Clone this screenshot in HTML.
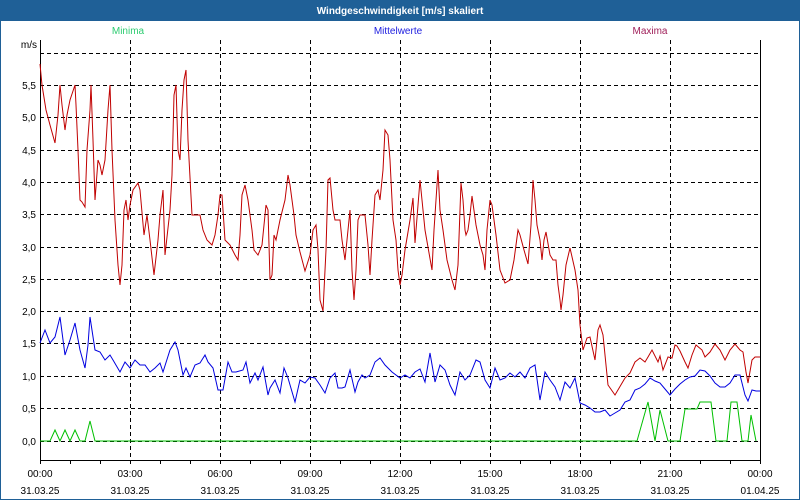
<!DOCTYPE html>
<html><head><meta charset="utf-8"><style>
html,body{margin:0;padding:0;background:#fff}
svg{display:block}
text{font-family:"Liberation Sans",sans-serif;font-size:10px}
</style></head><body>
<svg width="800" height="500" xmlns="http://www.w3.org/2000/svg">
<rect x="0" y="0" width="800" height="500" fill="#1f6097"/>
<rect x="1" y="21" width="798" height="478" fill="#fff"/>
<text x="400" y="14" text-anchor="middle" fill="#fff" font-weight="bold">Windgeschwindigkeit [m/s] skaliert</text>
<text x="128" y="34" text-anchor="middle" fill="#2ecc71">Minima</text>
<text x="398" y="34" text-anchor="middle" fill="#2020e0">Mittelwerte</text>
<text x="650" y="34" text-anchor="middle" fill="#a0205a">Maxima</text>
<text x="37" y="48" text-anchor="end" fill="#000">m/s</text>
<g stroke="#000" stroke-dasharray="4,3" stroke-width="1">
<line x1="40" y1="53.5" x2="760" y2="53.5"/><line x1="40" y1="85.5" x2="760" y2="85.5"/>
<line x1="40" y1="117.5" x2="760" y2="117.5"/><line x1="40" y1="150.5" x2="760" y2="150.5"/>
<line x1="40" y1="182.5" x2="760" y2="182.5"/><line x1="40" y1="214.5" x2="760" y2="214.5"/>
<line x1="40" y1="247.5" x2="760" y2="247.5"/><line x1="40" y1="279.5" x2="760" y2="279.5"/>
<line x1="40" y1="311.5" x2="760" y2="311.5"/><line x1="40" y1="343.5" x2="760" y2="343.5"/>
<line x1="40" y1="376.5" x2="760" y2="376.5"/><line x1="40" y1="408.5" x2="760" y2="408.5"/>
<line x1="40" y1="441.5" x2="760" y2="441.5"/>
<line x1="130.5" y1="40" x2="130.5" y2="460"/><line x1="220.5" y1="40" x2="220.5" y2="460"/>
<line x1="310.5" y1="40" x2="310.5" y2="460"/><line x1="400.5" y1="40" x2="400.5" y2="460"/>
<line x1="490.5" y1="40" x2="490.5" y2="460"/><line x1="580.5" y1="40" x2="580.5" y2="460"/>
<line x1="670.5" y1="40" x2="670.5" y2="460"/>
</g>
<g fill="#000" text-anchor="end">
<text x="36" y="89">5,5</text><text x="36" y="121">5,0</text><text x="36" y="154">4,5</text>
<text x="36" y="186">4,0</text><text x="36" y="218">3,5</text><text x="36" y="251">3,0</text>
<text x="36" y="283">2,5</text><text x="36" y="315">2,0</text><text x="36" y="347">1,5</text>
<text x="36" y="380">1,0</text><text x="36" y="412">0,5</text><text x="36" y="445">0,0</text>
</g>
<path d="M40.5 40V460.5H760.5V40" fill="none" stroke="#000" stroke-width="1"/>
<g stroke="#000"><line x1="40.5" y1="460" x2="40.5" y2="464"/><line x1="70.5" y1="460" x2="70.5" y2="464"/><line x1="100.5" y1="460" x2="100.5" y2="464"/><line x1="130.5" y1="460" x2="130.5" y2="464"/><line x1="160.5" y1="460" x2="160.5" y2="464"/><line x1="190.5" y1="460" x2="190.5" y2="464"/><line x1="220.5" y1="460" x2="220.5" y2="464"/><line x1="250.5" y1="460" x2="250.5" y2="464"/><line x1="280.5" y1="460" x2="280.5" y2="464"/><line x1="310.5" y1="460" x2="310.5" y2="464"/><line x1="340.5" y1="460" x2="340.5" y2="464"/><line x1="370.5" y1="460" x2="370.5" y2="464"/><line x1="400.5" y1="460" x2="400.5" y2="464"/><line x1="430.5" y1="460" x2="430.5" y2="464"/><line x1="460.5" y1="460" x2="460.5" y2="464"/><line x1="490.5" y1="460" x2="490.5" y2="464"/><line x1="520.5" y1="460" x2="520.5" y2="464"/><line x1="550.5" y1="460" x2="550.5" y2="464"/><line x1="580.5" y1="460" x2="580.5" y2="464"/><line x1="610.5" y1="460" x2="610.5" y2="464"/><line x1="640.5" y1="460" x2="640.5" y2="464"/><line x1="670.5" y1="460" x2="670.5" y2="464"/><line x1="700.5" y1="460" x2="700.5" y2="464"/><line x1="730.5" y1="460" x2="730.5" y2="464"/><line x1="760.5" y1="460" x2="760.5" y2="464"/></g>
<g fill="#000" text-anchor="middle">
<text x="40" y="477">00:00</text><text x="130" y="477">03:00</text><text x="220" y="477">06:00</text><text x="310" y="477">09:00</text><text x="400" y="477">12:00</text><text x="490" y="477">15:00</text><text x="580" y="477">18:00</text><text x="670" y="477">21:00</text><text x="760" y="477">00:00</text>
<text x="40" y="494">31.03.25</text><text x="130" y="494">31.03.25</text><text x="220" y="494">31.03.25</text><text x="310" y="494">31.03.25</text><text x="400" y="494">31.03.25</text><text x="490" y="494">31.03.25</text><text x="580" y="494">31.03.25</text><text x="670" y="494">31.03.25</text><text x="760" y="494">01.04.25</text>
</g>
<polyline fill="none" stroke="#00c000" stroke-width="1" points="40,441 50,441 55,430 60,441 65,430 70,441 75,430 80,441 85,441 90,421 95,441 637,441 648,402 655,441 660,410 668,441 680,441 685,409 697,409 700,402 711,402 716,441 727,441 731,402 737,402 742,441 748,441 751,415 756,441"/>
<polyline fill="none" stroke="#0000e0" stroke-width="1" points="40,343 45,330 50,343 55,337 60,317 65,355 70,340 75,323 80,350 85,368 88,345 90,317 95,350 100,352 105,360 110,355 113,360 120,372 125,362 130,368 135,360 140,365 145,365 150,372 155,368 160,363 163,372 170,350 175,342 178,350 183,375 186,368 190,377 195,365 200,363 205,355 208,362 213,368 218,390 223,390 228,362 232,372 236,372 243,370 246,362 250,383 255,373 258,380 263,367 268,395 270,388 275,380 280,393 284,368 288,378 295,402 300,380 305,383 310,377 315,378 320,385 325,393 330,378 335,373 338,388 342,388 345,387 350,370 355,392 358,382 362,375 365,378 370,375 375,362 380,358 385,365 392,372 400,378 405,375 410,378 415,372 420,369 425,382 430,353 435,382 440,365 445,370 450,385 455,395 460,372 465,380 470,375 476,360 480,362 485,380 490,388 495,368 500,380 505,378 510,373 515,377 520,372 525,378 530,368 535,365 540,400 545,372 550,380 555,387 560,400 565,382 570,388 575,378 580,403 585,405 590,408 595,412 600,412 605,410 610,416 615,413 620,410 625,402 630,400 635,390 640,388 645,384 650,378 655,381 660,383 665,389 670,395 675,389 680,384 685,380 690,377 695,376 700,370 705,371 710,376 715,383 720,387 725,387 730,383 735,375 740,375 745,395 748,401 752,390 756,391 760,391"/>
<polyline fill="none" stroke="#c00000" stroke-width="1" points="40,64 42,85 46,110 50,125 55,143 58,115 60,85 62,105 65,130 67,115 70,100 75,85 76,105 78,150 80,200 82,202 85,207 87,150 90,110 91,85 93,140 95,200 98,160 100,165 102,175 105,160 108,110 110,85 112,150 115,220 118,265 120,285 122,265 124,210 126,200 128,220 130,205 133,190 138,183 140,190 144,235 147,215 150,240 154,275 158,240 160,215 163,190 165,255 170,210 172,175 174,95 176,85 178,150 180,160 182,110 184,80 186,70 188,140 192,215 195,215 200,215 203,230 207,240 212,245 215,235 218,215 220,195 222,195 225,240 230,245 235,255 238,260 240,235 242,195 245,185 248,200 252,230 254,250 258,255 262,245 266,205 268,210 270,280 272,275 274,235 276,240 280,220 285,200 288,175 290,185 294,215 296,235 300,252 305,271 310,255 313,230 316,225 318,250 320,300 323,311 326,250 328,180 330,178 333,210 335,220 340,220 342,240 345,260 347,240 350,210 352,270 354,300 356,270 358,220 360,215 365,215 368,245 370,275 372,240 375,195 378,190 380,200 383,170 385,130 388,135 390,160 393,220 396,240 398,270 400,285 402,275 405,250 410,220 413,198 415,243 420,180 425,230 432,270 434,230 436,200 438,170 440,210 443,230 447,260 452,280 455,290 458,265 461,183 463,200 465,230 466,235 468,230 470,215 472,196 476,225 480,245 483,255 485,270 487,230 490,200 492,205 496,235 500,270 505,283 510,280 514,260 518,230 520,235 524,250 528,264 531,225 533,180 535,200 537,225 540,240 542,260 544,240 546,232 550,255 553,260 556,260 558,285 560,300 561,310 563,295 566,265 570,248 575,270 578,290 580,325 583,350 587,338 590,337 595,360 598,330 600,325 603,335 608,385 615,395 625,378 630,373 635,362 640,358 645,362 648,357 652,350 658,362 660,356 663,370 668,357 672,358 675,345 677,346 680,351 685,362 688,368 692,355 696,345 702,350 705,357 710,352 715,344 720,350 725,360 730,350 735,344 740,350 743,352 746,372 748,383 752,360 755,357 760,357"/>
</svg>
</body></html>
